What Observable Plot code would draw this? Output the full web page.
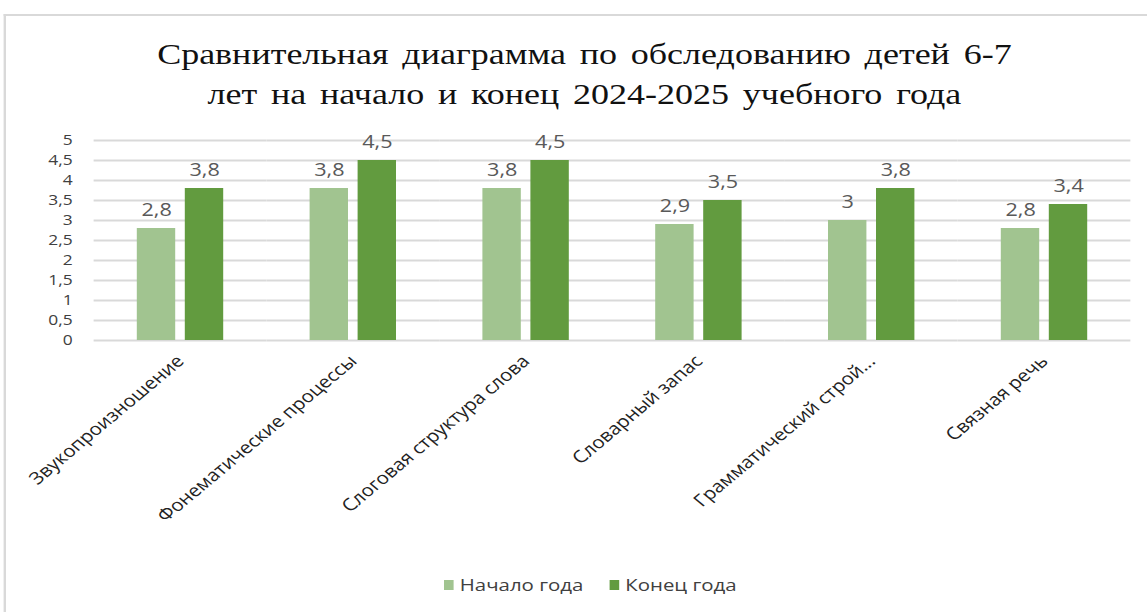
<!DOCTYPE html>
<html>
<head>
<meta charset="utf-8">
<script src="https://cdn.jsdelivr.net/npm/d3@7"></script>
<script src="https://cdn.jsdelivr.net/npm/@observablehq/plot@0.6"></script>
<style>
  html, body { margin: 0; padding: 0; background: #fff; overflow: hidden; }
  #wrap { position: relative; width: 956px; height: 612px; transform: scaleX(1.2); transform-origin: 0 0; }
  #frame { position: absolute; left: 3px; top: 14px; width: 960px; height: 610px; border-left: 2px solid #d9d9d9; border-top: 2px solid #d9d9d9; }
  #title { position: absolute; left: 0; top: 34px; width: 974px; text-align: center; font-family: "Liberation Serif", serif; font-size: 30px; line-height: 40px; color: #111; word-spacing: 4px; }
  #chart { position: absolute; left: 0; top: 120px; }
  #legend { position: absolute; left: 0; top: 573px; width: 984px; display: flex; justify-content: center; align-items: center; font-family: "Open Sans", sans-serif; font-size: 17px; color: #404040; }
  .item { display: flex; align-items: center; margin: 0 11px; }
  .sw { width: 8px; height: 10px; margin-right: 5px; }
</style>
</head>
<body>
<div id="wrap">
  <div id="frame"></div>
  <div id="title">Сравнительная диаграмма по обследованию детей 6-7<br>лет на начало и конец 2024-2025 учебного года</div>
  <div id="chart"></div>
  <div id="legend"></div>
</div>
<script>
const categories = ["Звукопроизношение", "Фонематические процессы", "Слоговая структура слова", "Словарный запас", "Грамматический строй...", "Связная речь"];
const seriesNames = ["Начало года", "Конец года"];
const startValues = [2.8, 3.8, 3.8, 2.9, 3, 2.8];
const endValues = [3.8, 4.5, 4.5, 3.5, 3.8, 3.4];
const yTicks = [0, 0.5, 1, 1.5, 2, 2.5, 3, 3.5, 4, 4.5, 5];
const colors = ["#a1c490", "#629b3f"];

const data = categories.flatMap((c, i) => [
  {category: c, series: seriesNames[0], value: startValues[i]},
  {category: c, series: seriesNames[1], value: endValues[i]}
]);
const fmt = d => String(d).replace(".", ",");

const chart = Plot.plot({
  width: 956,
  height: 440,
  marginTop: 20,
  marginBottom: 220,
  marginLeft: 78,
  marginRight: 14,
  style: {fontFamily: "Open Sans, sans-serif", color: "#404040", background: "transparent"},
  fx: {domain: categories, padding: 0, label: null},
  x: {domain: seriesNames, paddingInner: 0.2, paddingOuter: 0.86, axis: null},
  y: {domain: [0, 5], label: null},
  color: {domain: seriesNames, range: colors},
  marks: [
    Plot.ruleY(yTicks, {stroke: "#d9d9d9", strokeWidth: 2}),
    Plot.barY(data, {fx: "category", x: "series", y: "value", fill: "series"}),
    Plot.text(data, {fx: "category", x: "series", y: "value", text: d => fmt(d.value), dy: -13, lineAnchor: "bottom", fill: "#595959", fontSize: 18}),
    Plot.axisY(yTicks, {tickSize: 0, tickPadding: 18, fontSize: 14.5, label: null, tickFormat: fmt}),
    Plot.axisFx({anchor: "bottom", tickRotate: -45, tickSize: 0, tickPadding: 18, fontSize: 17, label: null, fill: "#222"})
  ]
});
document.getElementById("chart").appendChild(chart);

const legend = document.getElementById("legend");
seriesNames.forEach((s, i) => {
  const item = document.createElement("div");
  item.className = "item";
  const sw = document.createElement("span");
  sw.className = "sw";
  sw.style.background = colors[i];
  const t = document.createElement("span");
  t.textContent = s;
  item.appendChild(sw);
  item.appendChild(t);
  legend.appendChild(item);
});
</script>
</body>
</html>
